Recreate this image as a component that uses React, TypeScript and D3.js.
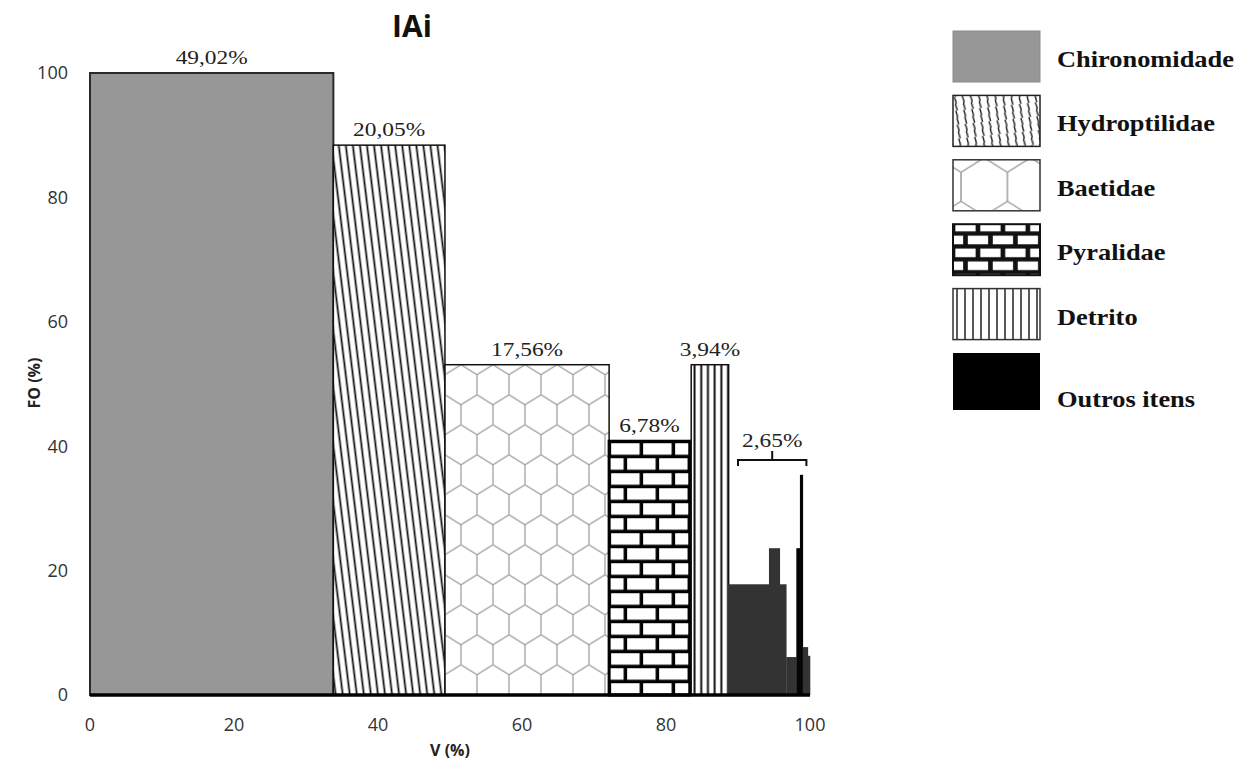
import React from 'react';
import * as d3 from 'd3';

// ---- data ----
const categories = ["Chironomidade", "Hydroptilidae", "Baetidae", "Pyralidae", "Detrito"];
const vStart = [0, 33.8, 49.3, 72.1, 83.5];
const vEnd = [33.8, 49.3, 72.1, 83.3, 88.7];
const foValues = [100, 88.4, 53.1, 40.8, 53.1];
const barLabels = ["49,02%", "20,05%", "17,56%", "6,78%", "3,94%"];

const otherStart = [88.6, 94.3, 95.8, 96.7, 98.1, 98.6, 99.0, 99.7];
const otherEnd = [94.3, 95.8, 96.7, 98.1, 98.6, 99.0, 99.7, 100];
const otherFO = [17.8, 23.6, 17.8, 6.1, 23.6, 35.4, 7.7, 6.3];
const otherBlack = [false, false, false, false, true, true, false, false];
const otherLabel = "2,65%";
const otherBracketV = [90, 99.5];
const otherBracketFO = 37.8;

const xTicks = [0, 20, 40, 60, 80, 100];
const yTicks = [0, 20, 40, 60, 80, 100];
const legendLabels = ["Chironomidade", "Hydroptilidae", "Baetidae", "Pyralidae", "Detrito", "Outros itens"];

const W = 1246;
const H = 771;

export default function App() {
  const x = d3.scaleLinear().domain([0, 100]).range([90, 810]);
  const y = d3.scaleLinear().domain([0, 100]).range([695, 73]);

  const fills = ["#979797", "url(#hydro)", "url(#hex)", "url(#brick)", "url(#vlines)"];
  const strokes = ["#2a2a2a", "#111", "#111", "#000", "#111"];
  const strokeW = [2, 1.5, 1.5, 3, 1.5];

  const legendFills = ["#979797", "url(#hydroL)", "url(#hexL)", "url(#brickL)", "url(#vlinesL)", "#000"];
  const legendStrokes = ["#8a8a8a", "#222", "#333", "#111", "#333", "none"];
  const legendStrokeW = [1, 1.5, 1.5, 2, 1.5, 0];

  const legX = 953;
  const legTop = 31;
  const legGap = 64.4;
  const legW = 87;
  const legH = 51;

  const serif = "'Liberation Serif', 'DejaVu Serif', serif";
  const sans = "'Open Sans', 'Liberation Sans', sans-serif";

  const bx0 = x(otherBracketV[0]);
  const bx1 = x(otherBracketV[1]);
  const by = y(otherBracketFO);
  const bmid = (bx0 + bx1) / 2;

  return (
    <svg width={W} height={H} style={{ position: 'absolute', left: 0, top: 0, background: '#fff' }}>
      <defs>
        <pattern id="hydro" patternUnits="userSpaceOnUse" width={7} height={20} patternTransform="rotate(-7)">
          <rect width={7} height={20} fill="#fff" />
          <line x1={3.5} y1={-1} x2={3.5} y2={21} stroke="#111" strokeWidth={1.8} />
        </pattern>
        <pattern id="hydroL" patternUnits="userSpaceOnUse" width={8} height={14} patternTransform="rotate(-6)">
          <rect width={8} height={14} fill="#fff" />
          <path d="M3,0 L4.2,6 L3.4,8 L4.6,14" stroke="#222" strokeWidth={1.4} fill="none" />
        </pattern>
        <pattern id="hex" patternUnits="userSpaceOnUse" width={32} height={60} x={x(vStart[2])} y={y(foValues[2])}>
          <rect width={32} height={60} fill="#fff" />
          <path d="M0,10 L16,0 L32,10 L32,30 L16,40 L0,30 Z M16,40 V60" stroke="#9a9a9a" strokeWidth={1.2} fill="none" />
        </pattern>
        <pattern id="hexL" patternUnits="userSpaceOnUse" width={32} height={60} patternTransform={`translate(${legX + 8},${legTop + legGap * 2 - 2}) scale(1.45)`}>
          <rect width={32} height={60} fill="#fff" />
          <path d="M0,10 L16,0 L32,10 L32,30 L16,40 L0,30 Z M16,40 V60" stroke="#9a9a9a" strokeWidth={1} fill="none" />
        </pattern>
        <pattern id="brick" patternUnits="userSpaceOnUse" width={32} height={30} x={x(vStart[3])} y={y(foValues[3])}>
          <rect width={32} height={30} fill="#000" />
          <rect x={2} y={2} width={28.5} height={11.5} fill="#fff" />
          <rect x={-14} y={17} width={28.5} height={11.5} fill="#fff" />
          <rect x={18} y={17} width={28.5} height={11.5} fill="#fff" />
        </pattern>
        <pattern id="brickL" patternUnits="userSpaceOnUse" width={32} height={30} patternTransform={`translate(${legX},${legTop + legGap * 3 - 4}) scale(0.78,0.86)`}>
          <rect width={32} height={30} fill="#111" />
          <rect x={3} y={3} width={26} height={10} fill="#fff" />
          <rect x={-13} y={18} width={26} height={10} fill="#fff" />
          <rect x={19} y={18} width={26} height={10} fill="#fff" />
        </pattern>
        <pattern id="vlines" patternUnits="userSpaceOnUse" width={6.7} height={10} x={x(vStart[4])}>
          <rect width={6.7} height={10} fill="#fff" />
          <line x1={3.35} y1={-1} x2={3.35} y2={11} stroke="#111" strokeWidth={2} />
        </pattern>
        <pattern id="vlinesL" patternUnits="userSpaceOnUse" width={8} height={10} x={legX}>
          <rect width={8} height={10} fill="#fff" />
          <line x1={4} y1={-1} x2={4} y2={11} stroke="#222" strokeWidth={1.5} />
        </pattern>
      </defs>

      {/* title */}
      <text x={412} y={37} textAnchor="middle" fontFamily={sans} fontWeight="bold" fontSize={30} fill="#111">IAi</text>

      {/* main bars */}
      {categories.map((c, i) => (
        <rect key={c}
          x={x(vStart[i])} y={y(foValues[i])}
          width={x(vEnd[i]) - x(vStart[i])} height={y(0) - y(foValues[i])}
          fill={fills[i]} stroke={strokes[i]} strokeWidth={strokeW[i]} />
      ))}

      {/* other items */}
      {otherFO.map((v, i) => (
        <rect key={'o' + i}
          x={x(otherStart[i])} y={y(v)}
          width={x(otherEnd[i]) - x(otherStart[i]) + 0.3} height={y(0) - y(v)}
          fill={otherBlack[i] ? '#050505' : '#333'} />
      ))}

      {/* bar labels */}
      {categories.map((c, i) => {
        const cx = (x(vStart[i]) + x(vEnd[i])) / 2;
        const cy = y(foValues[i]) - 9;
        return (
          <text key={'l' + c} transform={`translate(${cx},${cy}) scale(1.3,1)`} textAnchor="middle"
            fontFamily={serif} fontSize={18} fill="#222">{barLabels[i]}</text>
        );
      })}

      {/* bracket for other items */}
      <path d={`M${bx0},${by + 6} V${by} H${bx1} V${by + 6} M${bmid},${by} V${by - 9}`}
        stroke="#111" strokeWidth={2} fill="none" />
      <text transform={`translate(${bmid},${by - 13}) scale(1.3,1)`} textAnchor="middle"
        fontFamily={serif} fontSize={18} fill="#222">{otherLabel}</text>

      {/* x axis line */}
      <line x1={x(0)} x2={x(100)} y1={y(0)} y2={y(0)} stroke="#000" strokeWidth={3.5} />

      {/* ticks */}
      {xTicks.map(t => (
        <text key={'x' + t} x={x(t)} y={731} textAnchor="middle" fontFamily={sans} fontSize={18} fill="#333">{t}</text>
      ))}
      {yTicks.map(t => (
        <text key={'y' + t} x={68} y={y(t)} dy="0.35em" textAnchor="end" fontFamily={sans} fontSize={18} fill="#333">{t}</text>
      ))}

      {/* axis titles */}
      <text x={450} y={756} textAnchor="middle" fontFamily={sans} fontWeight="bold" fontSize={16} fill="#222">V (%)</text>
      <text transform={`translate(40,383) rotate(-90)`} textAnchor="middle" fontFamily={sans} fontWeight="bold" fontSize={16} fill="#222">FO (%)</text>

      {/* legend */}
      {legendLabels.map((l, i) => {
        const top = legTop + i * legGap;
        const h = i === 5 ? legH + 6 : legH;
        const ty = i === 5 ? top + 54 : top + 36;
        return (
          <g key={'lg' + l}>
            <rect x={legX} y={top} width={legW} height={h} fill={legendFills[i]}
              stroke={legendStrokes[i]} strokeWidth={legendStrokeW[i]} />
            <text transform={`translate(1057,${ty}) scale(1.1,1)`} fontFamily={serif} fontWeight="bold"
              fontSize={24} fill="#111">{l}</text>
          </g>
        );
      })}
    </svg>
  );
}
